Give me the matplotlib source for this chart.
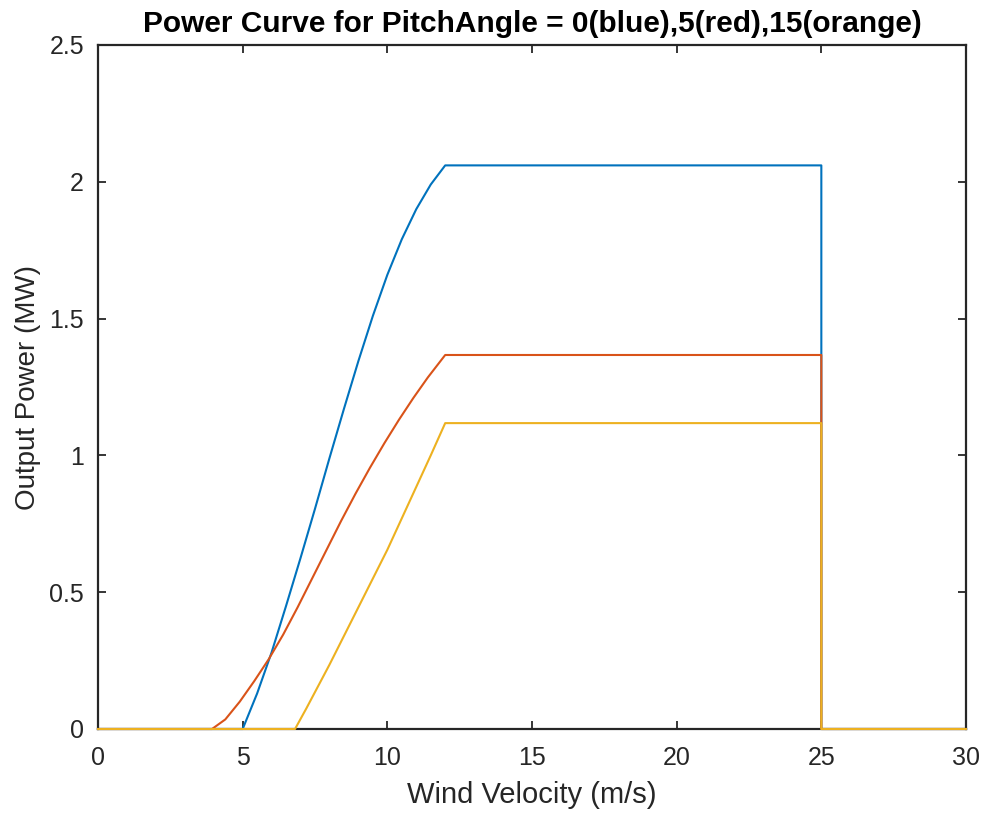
import matplotlib
matplotlib.use("Agg")
import matplotlib.pyplot as plt

# Wind speed (m/s) and output power (MW) for each pitch angle
v_pitch0 = [0, 5.0, 5.5, 6.0, 6.5, 7.0, 7.5, 8.0, 8.5, 9.0, 9.5, 10.0, 10.5,
            11.0, 11.5, 12.0, 25.0, 25.0, 30.0]
p_pitch0 = [0, 0, 0.13, 0.28, 0.45, 0.625, 0.805, 0.99, 1.17, 1.345, 1.51, 1.66,
            1.79, 1.90, 1.99, 2.06, 2.06, 0, 0]

v_pitch5 = [0, 3.94, 4.4, 4.9, 5.4, 5.9, 6.4, 6.9, 7.4, 7.9, 8.4, 8.9, 9.4, 9.9,
            10.4, 10.9, 11.4, 12.0, 25.0, 25.0, 30.0]
p_pitch5 = [0, 0, 0.035, 0.10, 0.175, 0.255, 0.345, 0.445, 0.55, 0.655, 0.76, 0.86,
            0.955, 1.045, 1.13, 1.21, 1.285, 1.367, 1.367, 0, 0]

v_pitch15 = [0, 6.81, 7.2, 7.5, 8.0, 8.5, 9.0, 9.5, 10.0, 10.5, 11.0, 11.5, 12.0,
             25.0, 25.0, 30.0]
p_pitch15 = [0, 0, 0.075, 0.135, 0.235, 0.34, 0.445, 0.55, 0.655, 0.77, 0.885, 1.0,
             1.118, 1.118, 0, 0]

x_ticks = [0, 5, 10, 15, 20, 25, 30]
y_ticks = [0, 0.5, 1, 1.5, 2, 2.5]
y_tick_labels = ['0', '0.5', '1', '1.5', '2', '2.5']

plt.rcParams['font.family'] = ['Liberation Sans', 'DejaVu Sans']
axis_color = '#262626'

fig = plt.figure(figsize=(9.83, 8.18), dpi=100)
ax = fig.add_axes([98 / 983, 1 - 729 / 818, (966 - 98) / 983, (729 - 45) / 818])

for v, p, c in [(v_pitch0, p_pitch0, '#0072BD'),
                (v_pitch5, p_pitch5, '#D95319'),
                (v_pitch15, p_pitch15, '#EDB120')]:
    ax.plot(v, p, color=c, lw=1.5, zorder=3, clip_on=False,
            solid_joinstyle='round')

ax.set_xlim(0, 30)
ax.set_ylim(0, 2.5)
ax.set_xticks(x_ticks)
ax.set_yticks(y_ticks)
ax.set_xticklabels([str(t) for t in x_ticks])
ax.set_yticklabels(y_tick_labels)

for s in ax.spines.values():
    s.set_color(axis_color)
    s.set_linewidth(1.6)
    s.set_zorder(2.5)
ax.tick_params(direction='in', length=6, width=1.3, colors=axis_color,
               labelsize=18, top=True, right=True)
ax.tick_params(axis='x', pad=12)
ax.tick_params(axis='y', pad=10)

ax.set_xlabel('Wind Velocity (m/s)', fontsize=21, color=axis_color, labelpad=8)
ax.set_ylabel('Output Power (MW)', fontsize=20, color=axis_color, labelpad=6)
ax.set_title('Power Curve for PitchAngle = 0(blue),5(red),15(orange)',
             fontsize=21.5, fontweight='bold', color='black', pad=9)

fig.savefig('out.png', dpi=100)
